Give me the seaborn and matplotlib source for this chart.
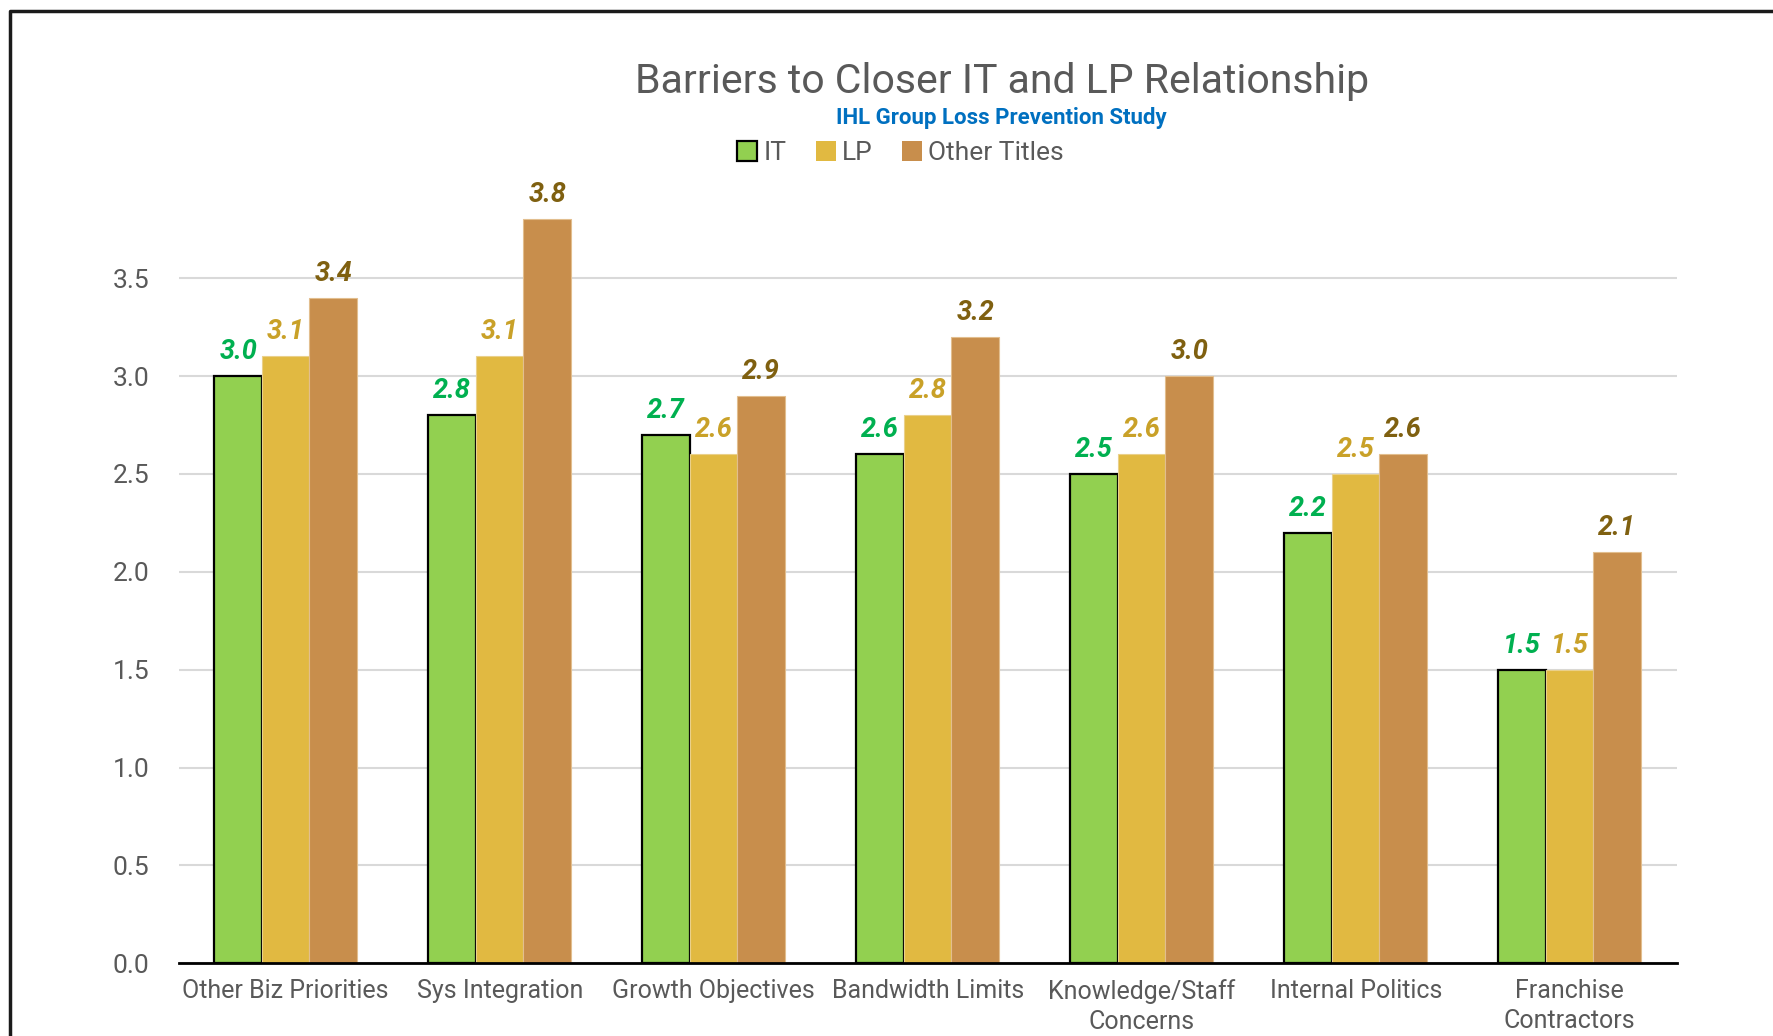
import matplotlib
matplotlib.use("Agg")
import matplotlib.pyplot as plt
from matplotlib.lines import Line2D
from matplotlib.patches import Patch
import seaborn as sns
import pandas as pd

# Survey results: average barrier rating by respondent group
categories = ["Other Biz Priorities", "Sys Integration", "Growth Objectives",
              "Bandwidth Limits", "Knowledge/Staff\nConcerns", "Internal Politics",
              "Franchise\nContractors"]
series_names = ["IT", "LP", "Other Titles"]
it_values = [3.0, 2.8, 2.7, 2.6, 2.5, 2.2, 1.5]
lp_values = [3.1, 3.1, 2.6, 2.8, 2.6, 2.5, 1.5]
other_values = [3.4, 3.8, 2.9, 3.2, 3.0, 2.6, 2.1]
y_ticks = [0.0, 0.5, 1.0, 1.5, 2.0, 2.5, 3.0, 3.5]

bar_colors = ["#92D050", "#E1B941", "#C88E4C"]
label_colors = ["#00B050", "#C9A128", "#7F6010"]
edge_colors = ["#000000", "#EAD08A", "#E2BE8E"]

df = pd.DataFrame({
    "category": categories * 3,
    "group": [s for s in series_names for _ in categories],
    "value": it_values + lp_values + other_values,
})

sns.set_theme(style="white")
plt.rcParams["font.family"] = ["Roboto", "DejaVu Sans"]

fig = plt.figure(figsize=(17.73, 10.36), dpi=100)
ax = fig.add_axes([0.1008, 0.0701, 0.8449, 0.7559])

sns.barplot(data=df, x="category", y="value", hue="group", order=categories,
            hue_order=series_names, palette=bar_colors, width=0.666, gap=0,
            saturation=1, ax=ax, legend=False)

for i, cont in enumerate(ax.containers):
    for bar in cont:
        bar.set_edgecolor(edge_colors[i])
        bar.set_linewidth(1.6 if i == 0 else 0.8)
    ax.bar_label(cont, labels=[f"{v:.1f}" for v in cont.datavalues], padding=8,
                 color=label_colors[i], fontsize=19.5, fontstyle="italic",
                 fontweight="semibold")

ax.set_ylim(0, 4.0)
ax.set_xlim(-0.5, len(categories) - 0.5)
ax.set_yticks(y_ticks)
ax.set_yticklabels([f"{t:.1f}" for t in y_ticks])
ax.yaxis.grid(True, color="#D9D9D9", linewidth=1.5)
ax.set_axisbelow(True)
for side in ["top", "right", "left"]:
    ax.spines[side].set_visible(False)
ax.spines["bottom"].set_color("#000000")
ax.spines["bottom"].set_linewidth(2)
ax.tick_params(axis="y", length=0, pad=21, labelsize=19, labelcolor="#595959")
ax.tick_params(axis="x", length=0, pad=11, labelsize=18, labelcolor="#595959")
for lbl in ax.get_xticklabels():
    lbl.set_linespacing(1.35)
ax.set_xlabel("")
ax.set_ylabel("")

fig.text(0.565, 0.921, "Barriers to Closer IT and LP Relationship", ha="center",
         va="center", fontsize=29.5, color="#595959", fontweight="normal")
fig.text(0.565, 0.886, "IHL Group Loss Prevention Study", ha="center",
         va="center", fontsize=16, color="#0070C0", fontweight="bold")

handles = [Patch(facecolor=bar_colors[i], edgecolor=edge_colors[i] if i == 0 else bar_colors[i],
                 linewidth=1.6 if i == 0 else 0) for i in range(3)]
fig.legend(handles, series_names, loc="center", bbox_to_anchor=(0.508, 0.852),
           ncol=3, frameon=False, fontsize=19, labelcolor="#595959",
           handlelength=0.75, handleheight=0.75, handletextpad=0.25, columnspacing=1.1)

# Outer frame on left and top edges
fig.add_artist(Line2D([0.0058, 0.0058, 1.0], [0.0, 0.9894, 0.9894],
                      transform=fig.transFigure, color="#1A1A1A", linewidth=2.5))

fig.savefig("out.png", dpi=100)
